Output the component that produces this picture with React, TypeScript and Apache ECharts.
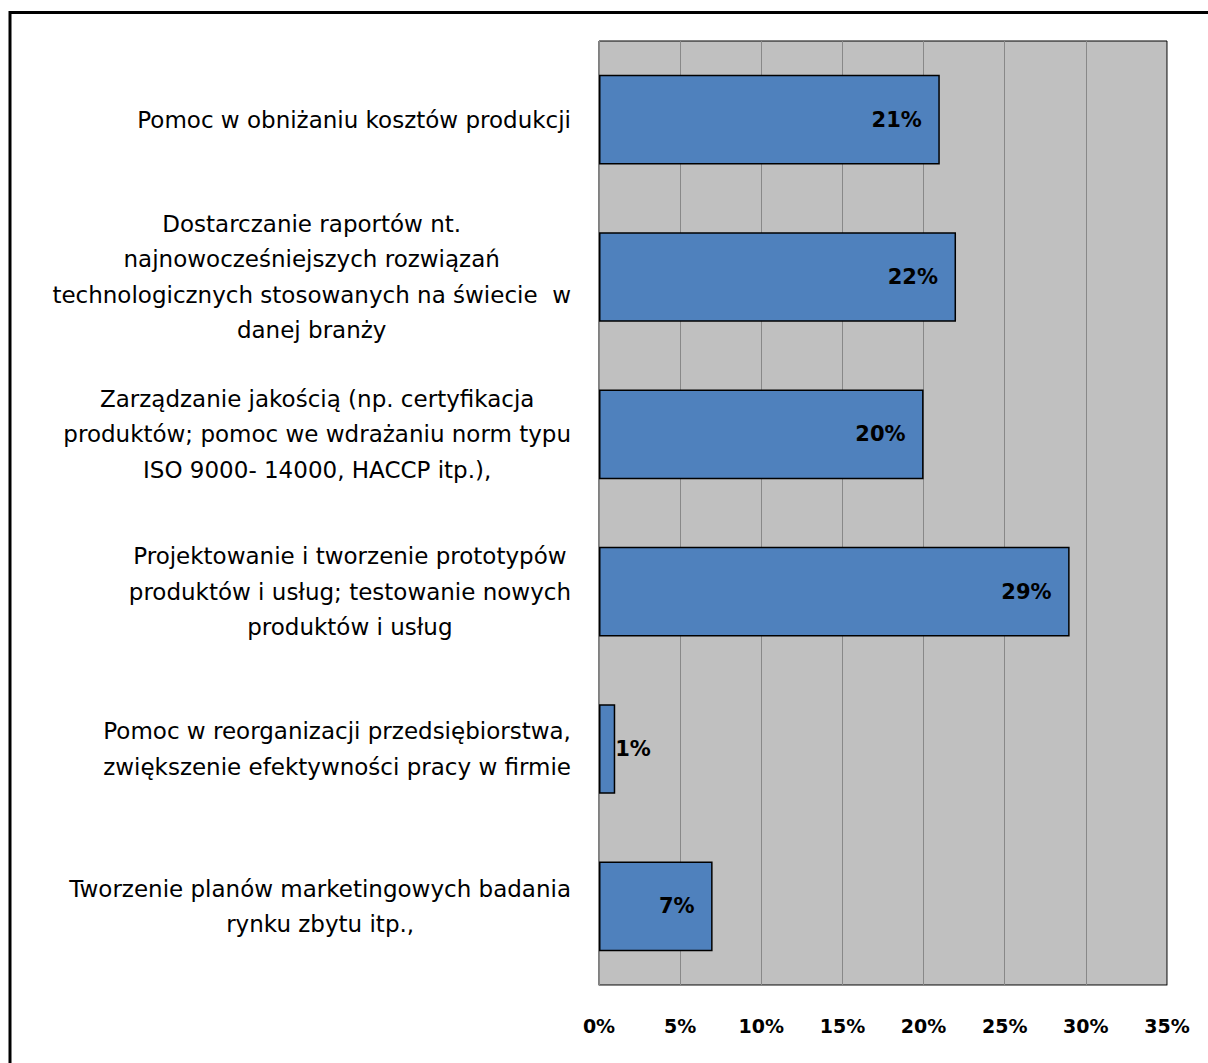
import React, { useEffect, useRef } from "react";
import * as echarts from "echarts";

const categories = [
  "Pomoc w obniżaniu kosztów produkcji",
  "Dostarczanie raportów nt.\nnajnowocześniejszych rozwiązań\ntechnologicznych stosowanych na świecie  w\ndanej branży",
  "Zarządzanie jakością (np. certyfikacja\nproduktów; pomoc we wdrażaniu norm typu\nISO 9000- 14000, HACCP itp.),",
  "Projektowanie i tworzenie prototypów\nproduktów i usług; testowanie nowych\nproduktów i usług",
  "Pomoc w reorganizacji przedsiębiorstwa,\nzwiększenie efektywności pracy w firmie",
  "Tworzenie planów marketingowych badania\nrynku zbytu itp.,",
];
const values = [21, 22, 20, 29, 1, 7];
const FONT = "'DejaVu Sans', sans-serif";

export default function App() {
  const ref = useRef<HTMLDivElement>(null);
  useEffect(() => {
    document.body.style.margin = "0";
    const chart = echarts.init(ref.current!, null, { renderer: "svg" });
    chart.setOption({
      animation: false,
      backgroundColor: "#ffffff",
      graphic: [
        {
          type: "rect",
          shape: { x: 10, y: 12.5, width: 1400, height: 1200 },
          style: { fill: "none", stroke: "#000", lineWidth: 3 },
          silent: true,
          z: 100,
        },
      ],
      grid: {
        left: 599,
        right: 41,
        top: 41,
        bottom: 78,
        show: true,
        backgroundColor: "#c0c0c0",
        borderColor: "#000",
        borderWidth: 1,
      },
      xAxis: {
        type: "value",
        min: 0,
        max: 35,
        interval: 5,
        axisLine: { show: true, lineStyle: { color: "#888", width: 1 } },
        axisTick: { show: false },
        splitLine: { show: true, lineStyle: { color: "#888", width: 1 } },
        axisLabel: {
          formatter: "{value}%",
          fontFamily: FONT,
          fontSize: 19,
          fontWeight: "bold",
          color: "#000",
          margin: 31,
        },
      },
      yAxis: {
        type: "category",
        inverse: true,
        data: categories,
        axisLine: { show: true, lineStyle: { color: "#888", width: 1 } },
        axisTick: { show: false },
        axisLabel: {
          margin: 28,
          formatter: (v: string) => "{c|" + v + "}",
          rich: {
            c: {
              fontFamily: FONT,
              fontSize: 23,
              lineHeight: 35.5,
              color: "#000",
              align: "center",
            },
          },
        },
      },
      series: [
        {
          type: "bar",
          data: values.map((v) => ({
            value: v,
            label:
              v < 3
                ? { position: "right", distance: 0 }
                : { position: "insideRight", distance: 18 },
          })),
          barCategoryGap: "43%",
          itemStyle: { color: "#4f81bd", borderColor: "#000", borderWidth: 1.5 },
          label: {
            show: true,
            formatter: "{c}%",
            fontFamily: FONT,
            fontSize: 21,
            fontWeight: "bold",
            color: "#000",
            padding: [3, 0, 0, 0],
          },
        },
      ],
    });
    return () => chart.dispose();
  }, []);
  return (
    <div
      ref={ref}
      style={{ position: "absolute", left: 0, top: 0, width: 1208, height: 1063 }}
    />
  );
}
